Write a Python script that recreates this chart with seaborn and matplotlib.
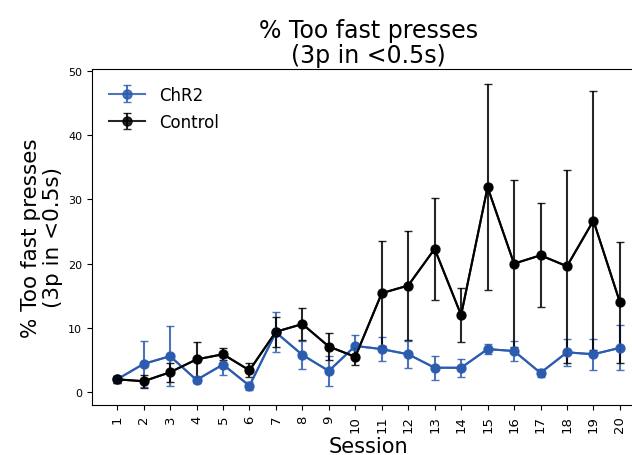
import matplotlib
matplotlib.use("Agg")
import matplotlib.pyplot as plt
import seaborn as sns
import pandas as pd
import numpy as np

sessions = list(range(1, 21))
chr2_mean = [2.0, 4.4, 5.6, 1.9, 4.3, 1.0, 9.3, 5.8, 3.3, 7.2,
             6.7, 5.9, 3.8, 3.8, 6.7, 6.4, 3.0, 6.2, 5.9, 6.9]
chr2_err = [0.5, 3.6, 4.7, 0.4, 1.6, 0.6, 3.1, 2.2, 2.4, 1.7,
            1.9, 2.1, 1.9, 1.4, 0.8, 1.6, 0.6, 2.1, 2.4, 3.5]
ctrl_mean = [2.0, 1.7, 3.1, 5.1, 5.9, 3.4, 9.4, 10.6, 7.1, 5.5,
             15.4, 16.6, 22.3, 12.0, 31.9, 20.0, 21.3, 19.6, 26.7, 14.0]
ctrl_err = [0.5, 1.0, 1.5, 2.7, 0.9, 1.1, 2.3, 2.5, 2.1, 1.3,
            8.2, 8.5, 7.9, 4.2, 16.0, 13.0, 8.1, 15.0, 20.2, 9.4]

labels = ["ChR2", "Control"]
colors = ["#2b5cb0", "#000000"]

df = pd.DataFrame({
    "Session": sessions * 2,
    "value": chr2_mean + ctrl_mean,
    "err": chr2_err + ctrl_err,
    "group": [labels[0]] * 20 + [labels[1]] * 20,
})

fig = plt.figure(figsize=(6.32, 4.56), dpi=100)
ax = fig.add_axes([0.1456, 0.1096, 0.875, 0.737])

sns.lineplot(data=df, x="Session", y="value", hue="group", palette=colors,
             marker="o", markersize=6.5, markeredgewidth=0, linewidth=1.5,
             legend=False, ax=ax, zorder=2)
for g, c in zip(labels, colors):
    sub = df[df["group"] == g]
    ax.errorbar(sub["Session"], sub["value"], yerr=sub["err"], fmt="-o",
                color=c, ms=6.5, lw=1.5, capsize=3, elinewidth=1.5,
                label=g, zorder=3, alpha=0.85)

ax.set_xticks(sessions)
ax.set_xticklabels([str(s) for s in sessions], rotation=90, fontsize=9.5)
ax.set_yticks([0, 10, 20, 30, 40, 50])
ax.tick_params(axis="y", labelsize=8)
ax.set_ylim(-2.0, 50.3)
ax.set_xlim(0.05, 20.95)
ax.set_xlabel("Session", fontsize=15, labelpad=3)
ax.set_ylabel("% Too fast presses\n(3p in <0.5s)", fontsize=15.5, linespacing=1.1)
ax.set_title("% Too fast presses\n(3p in <0.5s)", fontsize=17, linespacing=1.05, pad=5)
ax.legend(loc="upper left", fontsize=12, frameon=False, handlelength=2.2,
          labelspacing=0.55, borderaxespad=0.6)

fig.savefig("out.png", dpi=100)
